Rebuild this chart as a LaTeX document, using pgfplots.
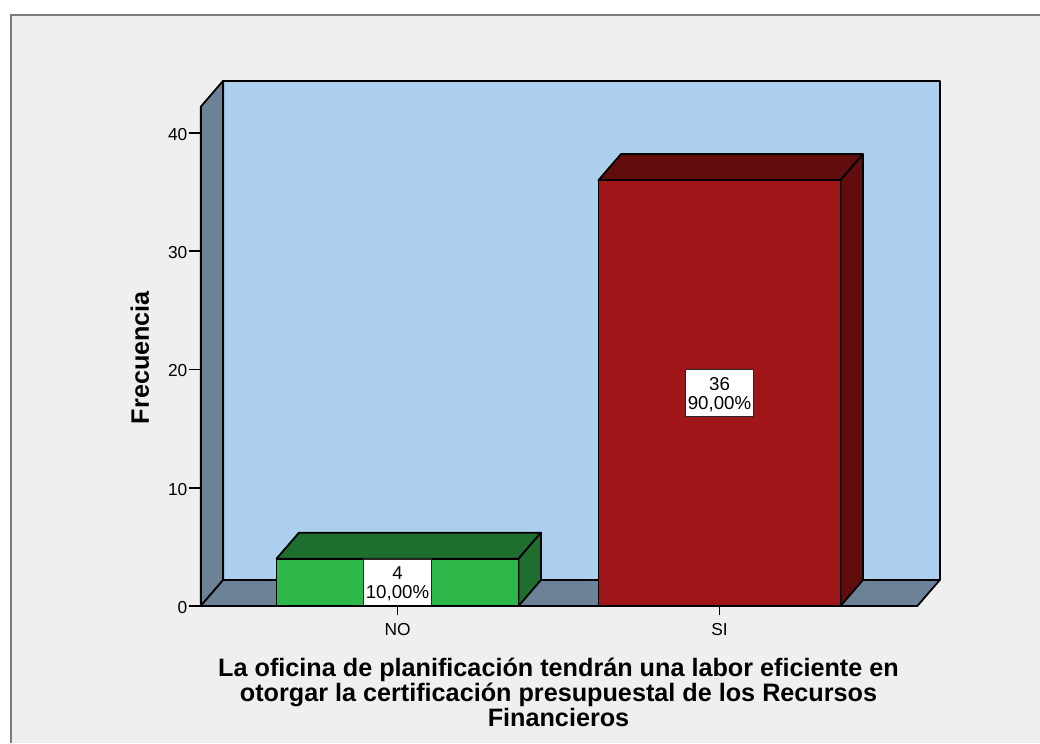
\documentclass[border=0pt]{standalone}
\usepackage{fontspec}
\setmainfont{Liberation Sans}
\usepackage{pgfplots}
\pgfplotsset{compat=1.18}
\definecolor{panel}{HTML}{EFEFEF}
\definecolor{frameg}{HTML}{7A7A7A}
\definecolor{wallback}{HTML}{ADCFEE}
\definecolor{wallside}{HTML}{6C8296}
\definecolor{greenfront}{HTML}{2EB84A}
\definecolor{greentop}{HTML}{1D6E2F}
\definecolor{redfront}{HTML}{A01518}
\definecolor{redtop}{HTML}{610D0E}
\pgfplotsset{
  face/.style={draw=black, line width=1.35pt, line join=round, mark=none},
}
\tikzset{
  datalabel/.style={fill=white, draw=black!85, line width=0.85pt, align=center, inner sep=0pt,
    minimum width=51.5pt, minimum height=35pt, font=\fontsize{14}{14.2}\selectfont},
}
\begin{document}
\begin{tikzpicture}
\begin{axis}[
  scale only axis,
  width=537.45pt, height=374.4pt,
  xmin=-0.6112, xmax=1.6143,
  ymin=0, ymax=42.2,
  clip=false,
  axis on top,
  axis x line*=bottom, axis y line*=left,
  axis line style={line width=1.5pt},
  xtick={0,1}, xticklabels={NO,SI},
  ytick={0,10,20,30,40},
  tick align=outside,
  tick style={black, line width=1.3pt},
  major tick length=8.5pt,
  xtick style={/pgfplots/major tick length=6.5pt},
  minor tick num=0,
  /pgf/number format/assume math mode=true,
  tick label style={font=\fontsize{13}{15}\selectfont},
  xticklabel style={yshift=-1pt},
  yticklabel style={xshift=2pt, yshift=-1pt},
  xlabel={La oficina de planificación tendrán una labor eficiente en\\otorgar la certificación presupuestal de los Recursos\\Financieros},
  xlabel style={font=\fontsize{18.9}{18.4}\bfseries, align=center, anchor=center,
    at={(axis cs:0.5,-7.3)}},
  ylabel={Frecuencia},
  ylabel style={font=\fontsize{18.9}{20}\bfseries, rotate=0, anchor=center,
    at={(axis cs:-0.8,21.0)}},
]
% panel behind the chart
\addplot[fill=white, draw=none] coordinates {(-1.2345,-11.58)(1.9953,-11.58)(1.9953,51.23)(-1.2345,51.23)} -- cycle;
\addplot[fill=panel, draw=frameg, line width=1.5pt] coordinates {(-1.2003,-13)(-1.2003,49.96)(2.05,49.96)(2.05,-13)} -- cycle;
\addplot[fill=white, draw=none] coordinates {(1.9953,-13.5)(2.1,-13.5)(2.1,52)(1.9953,52)} -- cycle;
\addplot[fill=white, draw=none] coordinates {(-1.25,-11.58)(2.1,-11.58)(2.1,-14)(-1.25,-14)} -- cycle;
% walls and floor
\addplot[face, fill=wallback] coordinates {(-0.5416,2.2)(1.6839,2.2)(1.6839,44.4)(-0.5416,44.4)} -- cycle;
\addplot[face] coordinates {(1.6839,2.2)(1.6839,44.4)};
\addplot[face, fill=wallside] coordinates {(-0.6112,0)(-0.5416,2.2)(-0.5416,44.4)(-0.6112,42.2)} -- cycle;
\addplot[face, fill=wallside] coordinates {(-0.6112,0)(1.6143,0)(1.6839,2.2)(-0.5416,2.2)} -- cycle;
% NO bar
\addplot[face, fill=greentop] coordinates {(-0.3758,4)(0.3758,4)(0.4454,6.2)(-0.3062,6.2)} -- cycle;
\addplot[face, fill=greentop] coordinates {(0.3758,0)(0.4454,2.2)(0.4454,6.2)(0.3758,4)} -- cycle;
\addplot[ybar, bar width=181.5pt, bar shift=0pt, fill=greenfront, draw=black, line width=1.35pt] coordinates {(0,4)};
% SI bar
\addplot[face, fill=redtop] coordinates {(0.6242,36)(1.3758,36)(1.4454,38.2)(0.6938,38.2)} -- cycle;
\addplot[face, fill=redtop] coordinates {(1.3758,0)(1.4454,2.2)(1.4454,38.2)(1.3758,36)} -- cycle;
\addplot[ybar, bar width=181.5pt, bar shift=0pt, fill=redfront, draw=black, line width=1.35pt] coordinates {(1,36)};
% data labels
\node[datalabel] at (axis cs:0,2) {\rule{0pt}{12pt}4\\10,00\%};
\node[datalabel] at (axis cs:1,18) {\rule{0pt}{12pt}36\\90,00\%};
\coordinate (bl) at (axis cs:-1.2345,-11.58);
\coordinate (tr) at (axis cs:1.9953,51.23);
\end{axis}
\pgfresetboundingbox
\useasboundingbox (bl) rectangle (tr);
\end{tikzpicture}
\end{document}
